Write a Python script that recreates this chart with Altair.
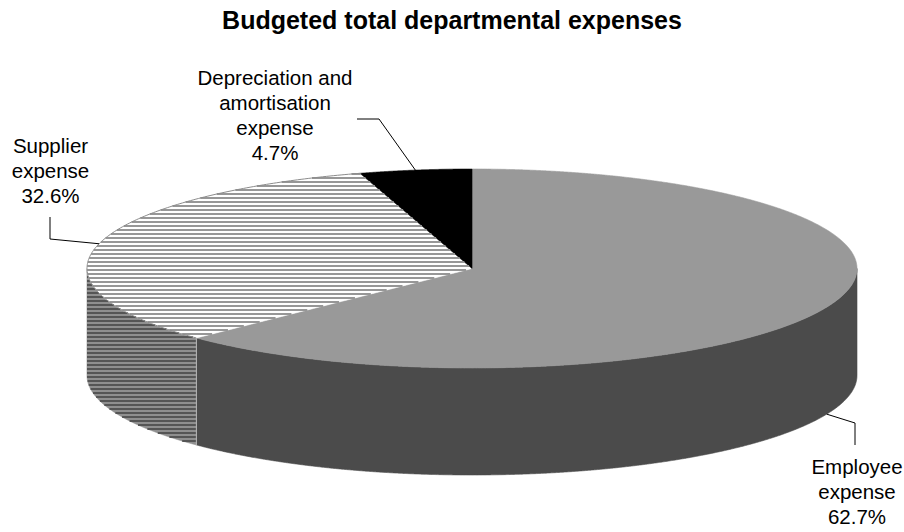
import numpy as np
import pandas as pd
import altair as alt

# ---------------- data ----------------
categories = ["Employee expense", "Supplier expense", "Depreciation and amortisation expense"]
label_names = ["Employee\nexpense", "Supplier\nexpense", "Depreciation and\namortisation\nexpense"]
shares = [62.7, 32.6, 4.7]
title_text = "Budgeted total departmental expenses"

# ---------------- layout / style ----------------
W, H, TOP_PAD = 904, 532, 40
CX, CY, RX, RY, DEPTH = 472.0, 268.5, 385.0, 99.5, 107.0
FONT = "Liberation Sans"
top_colors = ["#999999", "#ffffff", "#000000"]
side_colors = ["#4b4b4b", "#8f8f8f", "#000000"]
hatch_top_color = "#979797"
hatch_side_color = "#555555"
HATCH_STEP = 4
hatched = [False, True, False]
label_layout = [
    dict(elbow=(855, 423), end=(855, 445), tx=857, ty=474),
    dict(elbow=(50, 239), end=(50, 217), tx=50.5, ty=153),
    dict(elbow=(379, 119), end=(357, 119), tx=275, ty=85),
]

# ---------------- geometry from the values ----------------
fr = np.array(shares) / np.sum(shares)
ends = np.cumsum(fr)
starts = ends - fr


def ell(f, drop=0.0):
    a = 2 * np.pi * np.asarray(f, dtype=float)
    return CX + RX * np.sin(a), CY - RY * np.cos(a) + drop


def vertical_span(px, py, xs):
    lo = np.full(len(xs), np.nan)
    hi = np.full(len(xs), np.nan)
    x2, y2 = np.roll(px, -1), np.roll(py, -1)
    for a, b, c, d in zip(px, py, x2, y2):
        if abs(c - a) < 1e-9:
            continue
        m = (xs >= min(a, c) - 1e-9) & (xs <= max(a, c) + 1e-9)
        y = b + (xs[m] - a) / (c - a) * (d - b)
        lo[m] = np.fmin(lo[m], y)
        hi[m] = np.fmax(hi[m], y)
    return lo, hi


def horizontal_spans(px, py, ys):
    out = []
    x2, y2 = np.roll(px, -1), np.roll(py, -1)
    for yv in ys:
        xs = []
        for a, b, c, d in zip(px, py, x2, y2):
            if (b <= yv < d) or (d <= yv < b):
                xs.append(a + (yv - b) / (d - b) * (c - a))
        xs.sort()
        for i in range(0, len(xs) - 1, 2):
            out.append((xs[i], xs[i + 1], yv))
    return out


area_rows, hatch_rows, piece_dom, piece_rng = [], [], [], []
seps = []


def add_piece(name, px, py, color, hatch_color):
    xs = np.unique(np.concatenate([np.linspace(px.min(), px.max(), 500), px]))
    lo, hi = vertical_span(px, py, xs)
    for x, a, b in zip(xs, lo, hi):
        if not np.isnan(a):
            area_rows.append(dict(piece=name, x=x, y=a, y2=b))
    piece_dom.append(name)
    piece_rng.append(color)
    if hatch_color:
        ys = np.arange(np.ceil(py.min()), py.max(), HATCH_STEP)
        for xa, xb, yv in horizontal_spans(px, py, ys):
            hatch_rows.append(dict(piece=name, x=xa, x2=xb, y=yv, c=hatch_color))


# sides (visible front half only: 0.25 .. 0.75)
for i, cat in enumerate(categories):
    a, b = max(starts[i], 0.25), min(ends[i], 0.75)
    if a < b:
        n = max(30, int(800 * (b - a)))
        tx, ty = ell(np.linspace(a, b, n))
        bx, by = ell(np.linspace(b, a, n), DEPTH)
        add_piece(cat + " side", np.concatenate([tx, bx]), np.concatenate([ty, by]),
                  side_colors[i], hatch_side_color if hatched[i] else None)
# edges between side segments
for i in range(1, len(categories)):
    if 0.25 < starts[i] < 0.75:
        sx, sy = ell(starts[i])
        seps.append(dict(x=float(sx), y=float(sy), y2=float(sy + DEPTH)))

# top faces
for i, cat in enumerate(categories):
    n = max(30, int(800 * fr[i]))
    ax_, ay_ = ell(np.linspace(starts[i], ends[i], n))
    add_piece(cat + " top", np.concatenate([[CX], ax_]), np.concatenate([[CY], ay_]),
              top_colors[i], hatch_top_color if hatched[i] else None)

# outline of hatched top arcs
edge_rows = []
for i, cat in enumerate(categories):
    if hatched[i]:
        ex, ey = ell(np.linspace(starts[i], ends[i], 200))
        for k, (x, y) in enumerate(zip(ex, ey)):
            edge_rows.append(dict(piece=cat, k=k, x=x, y=y))

# leader lines and labels
leader_rows, text_rows = [], []
for i, cat in enumerate(categories):
    mid = (starts[i] + ends[i]) / 2
    drop = DEPTH if 0.25 < mid < 0.75 else 0.0
    mx, my = ell(mid, drop)
    L = label_layout[i]
    pts = [(float(mx), float(my)), L["elbow"], L["end"]]
    for k, (x, y) in enumerate(pts):
        leader_rows.append(dict(label=cat, k=k, x=x, y=y))
    text_rows.append(dict(label=f"{label_names[i]}\n{shares[i]:.1f}%", x=L["tx"], y=L["ty"]))

area_df = pd.DataFrame(area_rows)
hatch_df = pd.DataFrame(hatch_rows)
sep_df = pd.DataFrame(seps)
edge_df = pd.DataFrame(edge_rows)
leader_df = pd.DataFrame(leader_rows)
text_df = pd.DataFrame(text_rows)

xs = alt.Scale(domain=[0, W], nice=False, zero=False)
ys = alt.Scale(domain=[H, TOP_PAD], nice=False, zero=False)
X = lambda f="x": alt.X(f"{f}:Q", scale=xs, axis=None)
Y = lambda f="y": alt.Y(f"{f}:Q", scale=ys, axis=None)
pscale = alt.Scale(domain=piece_dom, range=piece_rng)

areas = alt.Chart(area_df).mark_area(strokeWidth=0.6, orient="vertical").encode(
    x=X(), y=Y(), y2="y2:Q",
    color=alt.Color("piece:N", scale=pscale, legend=None),
    stroke=alt.Stroke("piece:N", scale=pscale, legend=None),
    detail="piece:N",
)

hatch = alt.Chart(hatch_df).mark_rule(strokeWidth=2).encode(
    x=X(), x2="x2:Q", y=Y(), color=alt.Color("c:N", scale=None),
)

seplines = alt.Chart(sep_df).mark_rule(color="#b8b8b8", strokeWidth=1).encode(
    x=X(), y=Y(), y2="y2:Q"
)

edges = alt.Chart(edge_df).mark_line(color="#8c8c8c", strokeWidth=1).encode(
    x=X(), y=Y(), detail="piece:N", order="k:Q"
)

leaders = alt.Chart(leader_df).mark_line(color="black", strokeWidth=1).encode(
    x=X(), y=Y(), detail="label:N", order="k:Q"
)

labels = alt.Chart(text_df).mark_text(
    align="center", baseline="alphabetic", fontSize=20.5, font=FONT, color="black",
    lineBreak="\n", lineHeight=25,
).encode(x=X(), y=Y(), text="label:N")

chart = alt.layer(areas, hatch, seplines, edges, leaders, labels).properties(
    width=W, height=H - TOP_PAD,
    title=alt.TitleParams(title_text, fontSize=25, fontWeight="bold", font=FONT, color="black",
                          anchor="middle", baseline="alphabetic", offset=11, dy=25),
    padding={"left": 0, "right": 0, "top": TOP_PAD, "bottom": 0},
    autosize="none",
    background="white",
).configure_view(stroke=None)

chart.save("out.html", embed_options={"renderer": "svg", "actions": False})
